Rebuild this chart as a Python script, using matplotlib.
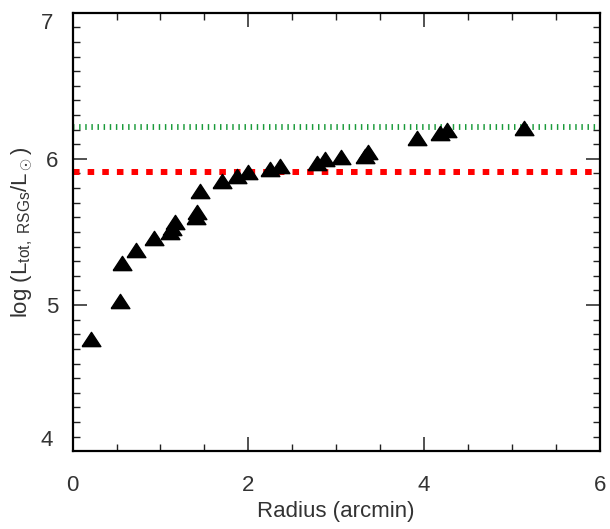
import numpy as np
import matplotlib.pyplot as plt
from matplotlib.ticker import MultipleLocator, FuncFormatter

plt.rcParams['font.family'] = ['Liberation Sans', 'DejaVu Sans']
plt.rcParams['mathtext.fontset'] = 'custom'
plt.rcParams['mathtext.rm'] = 'Liberation Sans'
plt.rcParams['mathtext.it'] = 'Liberation Sans'

# radius (arcmin) vs cumulative log luminosity of RSGs
radius = [0.21, 0.54, 0.56, 0.72, 0.93, 1.11, 1.13, 1.17, 1.41, 1.42, 1.45,
          1.70, 1.87, 2.00, 2.25, 2.36, 2.78, 2.87, 3.05, 3.33, 3.36,
          3.92, 4.18, 4.26, 5.14]
logL = [4.77, 5.03, 5.29, 5.38, 5.46, 5.50, 5.53, 5.57, 5.60, 5.64, 5.78,
        5.85, 5.88, 5.91, 5.93, 5.95, 5.97, 6.00, 6.01, 6.02, 6.05,
        6.14, 6.18, 6.20, 6.21]
green_level = 6.215
red_level = 5.91
ymin, ymax = 4, 7

# flat IDL-like triangle (wider than tall)
tri = [(-1, -0.76), (1, -0.76), (0, 0.76), (-1, -0.76)]

fig = plt.figure(figsize=(6.1, 5.29), dpi=100)
ax = fig.add_axes([0.119, 0.147, 0.864, 0.829])

ax.axhline(green_level, color='#1a9a3a', lw=4.2, dashes=(0.25, 0.8))
ax.axhline(red_level, color='red', lw=4.3, dashes=(1.1, 1.35))
ax.plot(radius, logL, linestyle='none', marker=tri, color='black', ms=13.5, zorder=3)

ax.set_xlim(0, 6)
ax.set_ylim(ymin, ymax)
ax.xaxis.set_major_locator(MultipleLocator(2))
ax.xaxis.set_minor_locator(MultipleLocator(0.5))
ax.yaxis.set_major_locator(MultipleLocator(1))
ax.yaxis.set_minor_locator(MultipleLocator(0.1))
# end labels get nudged inside the axis range, like IDL does
ax.yaxis.set_major_formatter(FuncFormatter(
    lambda v, p: '' if v in (ymin, ymax) else '%d' % v))
ax.tick_params(which='both', direction='in', top=True, right=True,
               labelsize=16, colors='#222222', labelcolor='#333333')
ax.tick_params(which='major', length=10, width=1.1)
ax.tick_params(which='minor', length=5, width=1.0)
ax.tick_params(axis='x', which='major', pad=17)
ax.tick_params(axis='y', which='major', pad=10)
for s in ax.spines.values():
    s.set_linewidth(1.6)

ytr = ax.get_yaxis_transform()
ax.text(-0.037, ymax, '%d' % ymax, transform=ytr, ha='right', va='top',
        fontsize=16, color='#333333')
ax.text(-0.037, ymin, '%d' % ymin, transform=ytr, ha='right', va='bottom',
        fontsize=16, color='#333333')

ax.set_xlabel('Radius (arcmin)', fontsize=16, color='#333333', labelpad=4)
ax.set_ylabel(r'log (L$_{\rm tot,\ RSGs}$/L$_\odot$)', fontsize=16,
              color='#333333', labelpad=8)

fig.savefig('out.png', dpi=100)
